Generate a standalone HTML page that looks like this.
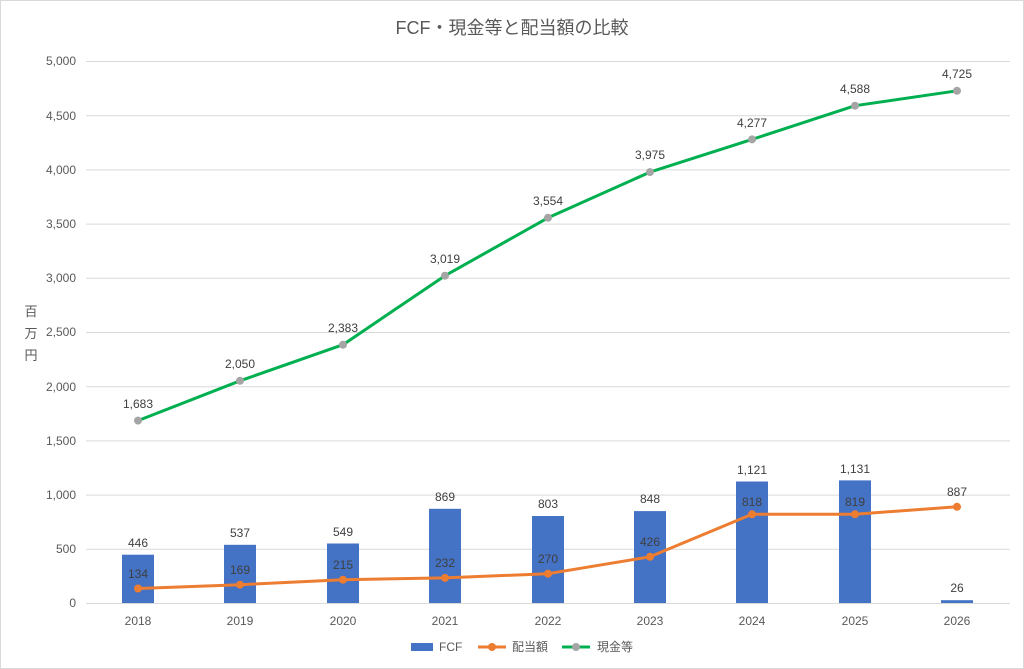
<!DOCTYPE html>
<html><head><meta charset="utf-8"><style>
body{margin:0;background:#fff;}
svg{display:block;font-family:"Liberation Sans","Noto Sans CJK JP",sans-serif;}
</style></head><body>
<svg width="1024" height="669" viewBox="0 0 1024 669" xmlns="http://www.w3.org/2000/svg">
<rect x="0.5" y="0.5" width="1023" height="668" fill="#fff" stroke="#d9d9d9"/>
<text x="512" y="34" text-anchor="middle" font-size="18" fill="#595959">FCF・現金等と配当額の比較</text>
<g stroke="#d9d9d9" stroke-width="1">
<line x1="86" y1="603.5" x2="1010" y2="603.5"/>
<line x1="86" y1="549.3" x2="1010" y2="549.3"/>
<line x1="86" y1="495.1" x2="1010" y2="495.1"/>
<line x1="86" y1="440.9" x2="1010" y2="440.9"/>
<line x1="86" y1="386.7" x2="1010" y2="386.7"/>
<line x1="86" y1="332.5" x2="1010" y2="332.5"/>
<line x1="86" y1="278.3" x2="1010" y2="278.3"/>
<line x1="86" y1="224.1" x2="1010" y2="224.1"/>
<line x1="86" y1="169.9" x2="1010" y2="169.9"/>
<line x1="86" y1="115.7" x2="1010" y2="115.7"/>
<line x1="86" y1="61.5" x2="1010" y2="61.5"/>
</g>
<g font-size="12" fill="#595959" text-anchor="end">
<text x="76" y="607">0</text><text x="76" y="553">500</text><text x="76" y="499">1,000</text>
<text x="76" y="445">1,500</text><text x="76" y="391">2,000</text><text x="76" y="336">2,500</text>
<text x="76" y="282">3,000</text><text x="76" y="228">3,500</text><text x="76" y="174">4,000</text>
<text x="76" y="120">4,500</text><text x="76" y="65">5,000</text>
</g>
<g font-size="13" fill="#595959" text-anchor="middle">
<text x="31" y="316">百</text><text x="31" y="338">万</text><text x="31" y="360">円</text>
</g>
<g font-size="12" fill="#595959" text-anchor="middle">
<text x="138" y="625">2018</text><text x="240" y="625">2019</text><text x="343" y="625">2020</text>
<text x="445" y="625">2021</text><text x="548" y="625">2022</text><text x="650" y="625">2023</text>
<text x="752" y="625">2024</text><text x="855" y="625">2025</text><text x="957" y="625">2026</text>
</g>
<g fill="#4472c4">
<rect x="122" y="554.7" width="32" height="48.3"/>
<rect x="224" y="544.8" width="32" height="58.2"/>
<rect x="327" y="543.5" width="32" height="59.5"/>
<rect x="429" y="508.8" width="32" height="94.2"/>
<rect x="532" y="516" width="32" height="87"/>
<rect x="634" y="511.1" width="32" height="91.9"/>
<rect x="736" y="481.5" width="32" height="121.5"/>
<rect x="839" y="480.4" width="32" height="122.6"/>
<rect x="941" y="600.2" width="32" height="2.8"/>
</g>
<g font-size="12" fill="#404040" text-anchor="middle">
<text x="138" y="547">446</text><text x="240" y="537">537</text><text x="343" y="536">549</text>
<text x="445" y="501">869</text><text x="548" y="508">803</text><text x="650" y="503">848</text>
<text x="752" y="474">1,121</text><text x="855" y="473">1,131</text><text x="957" y="592">26</text>
</g>
<polyline fill="none" stroke="#ed7d31" stroke-width="3" stroke-linejoin="round" points="138,588.5 240,584.7 343,579.7 445,577.9 548,573.7 650,556.8 752,514.3 855,514.2 957,506.8"/>
<g fill="#ed7d31">
<circle cx="138" cy="588.5" r="4"/><circle cx="240" cy="584.7" r="4"/><circle cx="343" cy="579.7" r="4"/>
<circle cx="445" cy="577.9" r="4"/><circle cx="548" cy="573.7" r="4"/><circle cx="650" cy="556.8" r="4"/>
<circle cx="752" cy="514.3" r="4"/><circle cx="855" cy="514.2" r="4"/><circle cx="957" cy="506.8" r="4"/>
</g>
<g font-size="12" fill="#404040" text-anchor="middle">
<text x="138" y="578">134</text><text x="240" y="574">169</text><text x="343" y="569">215</text>
<text x="445" y="567">232</text><text x="548" y="563">270</text><text x="650" y="546">426</text>
<text x="752" y="506">818</text><text x="855" y="506">819</text><text x="957" y="496">887</text>
</g>
<polyline fill="none" stroke="#00b050" stroke-width="3" stroke-linejoin="round" points="138,420.6 240,380.8 343,344.7 445,275.7 548,217.8 650,172.1 752,139.4 855,105.7 957,90.8"/>
<g fill="#a5a5a5">
<circle cx="138" cy="420.6" r="4"/><circle cx="240" cy="380.8" r="4"/><circle cx="343" cy="344.7" r="4"/>
<circle cx="445" cy="275.7" r="4"/><circle cx="548" cy="217.8" r="4"/><circle cx="650" cy="172.1" r="4"/>
<circle cx="752" cy="139.4" r="4"/><circle cx="855" cy="105.7" r="4"/><circle cx="957" cy="90.8" r="4"/>
</g>
<g font-size="12" fill="#404040" text-anchor="middle">
<text x="138" y="408">1,683</text><text x="240" y="368">2,050</text><text x="343" y="332">2,383</text>
<text x="445" y="263">3,019</text><text x="548" y="205">3,554</text><text x="650" y="159">3,975</text>
<text x="752" y="127">4,277</text><text x="855" y="93">4,588</text><text x="957" y="78">4,725</text>
</g>
<rect x="411" y="643" width="22" height="8" fill="#4472c4"/>
<text x="439" y="651" font-size="12" fill="#595959">FCF</text>
<line x1="478" y1="647" x2="506" y2="647" stroke="#ed7d31" stroke-width="3"/>
<circle cx="492" cy="647" r="4" fill="#ed7d31"/>
<text x="512" y="651" font-size="12" fill="#595959">配当額</text>
<line x1="562" y1="647" x2="590" y2="647" stroke="#00b050" stroke-width="3"/>
<circle cx="576" cy="647" r="4" fill="#a5a5a5"/>
<text x="597" y="651" font-size="12" fill="#595959">現金等</text>
</svg>
</body></html>
